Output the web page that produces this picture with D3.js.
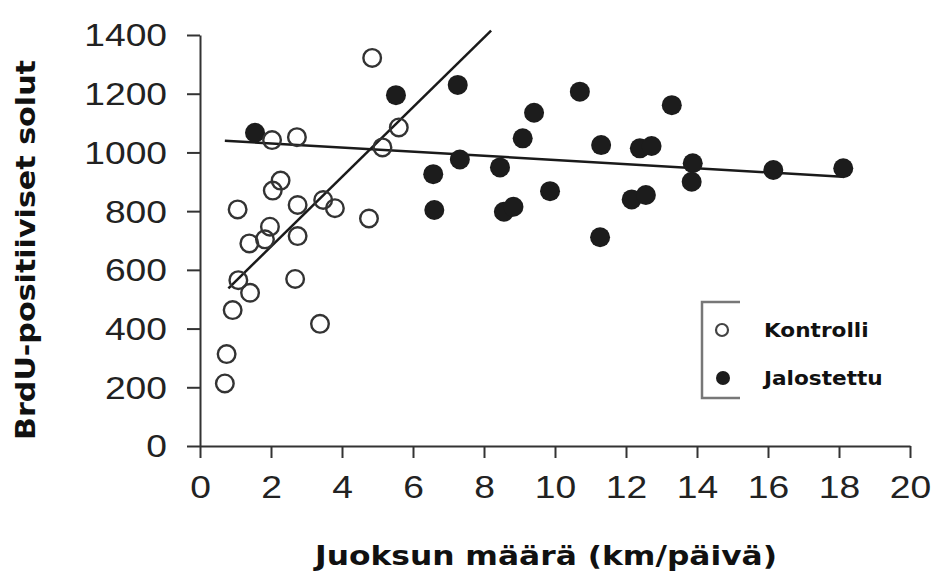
<!DOCTYPE html>
<html>
<head>
<meta charset="utf-8">
<script src="https://cdn.jsdelivr.net/npm/d3@7"></script>
<style>
  body { margin: 0; background: #fff; }
  .tick text { font-family: "Liberation Sans", Arial, sans-serif; font-size: 31px; fill: #222; }
  .domain, .tick line { stroke: #333; stroke-width: 2; }
  .title { font-family: "DejaVu Sans", Verdana, sans-serif; font-weight: bold; fill: #111; }
</style>
</head>
<body>
<script>
// Kontrolli (open circles)
const controlKm    = [4.85, 5.6, 5.14, 2.03, 2.73, 1.06, 2.27, 2.05, 2.75, 3.47, 3.8, 4.76, 1.97, 1.39, 1.83, 2.75, 1.08, 1.41, 0.92, 2.68, 3.38, 0.75, 0.70]
const controlCells = [1322, 1085, 1017, 1042, 1052, 806, 904, 870, 821, 838, 810, 775, 747, 690, 704, 715, 565, 522, 463, 569, 416, 313, 213]

// Jalostettu (filled circles)
const enrichedKm    = [1.55, 5.52, 7.26, 10.7, 9.41, 9.09, 11.3, 7.32, 6.57, 8.45, 9.86, 6.6, 8.56, 8.83, 11.27, 12.16, 12.56, 13.29, 12.39, 12.72, 13.88, 13.85, 16.15, 18.12]
const enrichedCells = [1067, 1195, 1230, 1207, 1135, 1048, 1025, 976, 926, 949, 868, 804, 798, 815, 711, 840, 855, 1161, 1014, 1022, 963, 900, 940, 946]

// regression lines, end points
const controlFitKm    = [0.8, 8.2]
const controlFitCells = [537, 1415]
const enrichedFitKm    = [0.7, 18.1]
const enrichedFitCells = [1040, 917]

const xTicks = [0, 2, 4, 6, 8, 10, 12, 14, 16, 18, 20]
const yTicks = [0, 200, 400, 600, 800, 1000, 1200, 1400]
const legendLabels = ['Kontrolli', 'Jalostettu']

const width = 935, height = 575

const svg = d3.select('body').append('svg').attr('width', width).attr('height', height)

const x = d3.scaleLinear().domain([0, 20]).range([200, 910])
const y = d3.scaleLinear().domain([0, 1400]).range([446, 35])

// the original picture is stretched sideways, so widen text a bit
function stretch(sel, k) {
    sel.each(function() {
        const w = this.getComputedTextLength()
        d3.select(this).attr('textLength', w * k).attr('lengthAdjust', 'spacingAndGlyphs')
    })
}

svg.append('g')
    .attr('transform', `translate(0, ${y(0)})`)
    .call(d3.axisBottom(x).tickValues(xTicks).tickFormat(d3.format('d'))
        .tickSize(12).tickSizeOuter(0).tickPadding(18))
    .selectAll('text').attr('dy', '0.71em').call(stretch, 1.2)

svg.append('g')
    .attr('transform', `translate(${x(0)}, 0)`)
    .call(d3.axisLeft(y).tickValues(yTicks).tickFormat(d3.format('d'))
        .tickSize(13).tickSizeOuter(0).tickPadding(20))
    .selectAll('text').attr('dy', '0.35em').call(stretch, 1.2)

// regression lines
const line = d3.line().x(d => x(d[0])).y(d => y(d[1]))
svg.append('path').datum(d3.zip(controlFitKm, controlFitCells))
    .attr('d', line).attr('fill', 'none').attr('stroke', '#1a1a1a').attr('stroke-width', 2.5)
svg.append('path').datum(d3.zip(enrichedFitKm, enrichedFitCells))
    .attr('d', line).attr('fill', 'none').attr('stroke', '#1a1a1a').attr('stroke-width', 2.5)

// points
svg.append('g').selectAll('circle').data(d3.zip(enrichedKm, enrichedCells)).join('circle')
    .attr('cx', d => x(d[0])).attr('cy', d => y(d[1])).attr('r', 10)
    .attr('fill', '#1c1c1c')

svg.append('g').selectAll('circle').data(d3.zip(controlKm, controlCells)).join('circle')
    .attr('cx', d => x(d[0])).attr('cy', d => y(d[1])).attr('r', 8.8)
    .attr('fill', 'none').attr('stroke', '#333').attr('stroke-width', 2.4)

// axis titles
svg.append('text').attr('class', 'title')
    .attr('x', 546).attr('y', 565).attr('text-anchor', 'middle')
    .style('font-size', '26px')
    .attr('textLength', 462).attr('lengthAdjust', 'spacingAndGlyphs')
    .text('Juoksun määrä (km/päivä)')

svg.append('text').attr('class', 'title')
    .attr('transform', 'translate(35, 250) rotate(-90)')
    .attr('text-anchor', 'middle')
    .style('font-size', '26px')
    .attr('textLength', 380).attr('lengthAdjust', 'spacingAndGlyphs')
    .text('BrdU-positiiviset solut')

// legend with bracket
const legend = svg.append('g')
legend.append('path')
    .attr('d', 'M740,302 H702 V398 H740')
    .attr('fill', 'none').attr('stroke', '#777').attr('stroke-width', 2.5)

const legendY = [330, 378]
legend.append('circle').attr('cx', 722).attr('cy', legendY[0]).attr('r', 6)
    .attr('fill', 'none').attr('stroke', '#444').attr('stroke-width', 2.2)
legend.append('circle').attr('cx', 723).attr('cy', legendY[1]).attr('r', 7)
    .attr('fill', '#1c1c1c')

legend.selectAll('text.lab').data(legendLabels).join('text')
    .attr('class', 'title lab')
    .attr('x', 764).attr('y', (d, i) => legendY[i] + 7)
    .style('font-size', '20px')
    .text(d => d)
    .call(stretch, 1.08)
</script>
</body>
</html>
